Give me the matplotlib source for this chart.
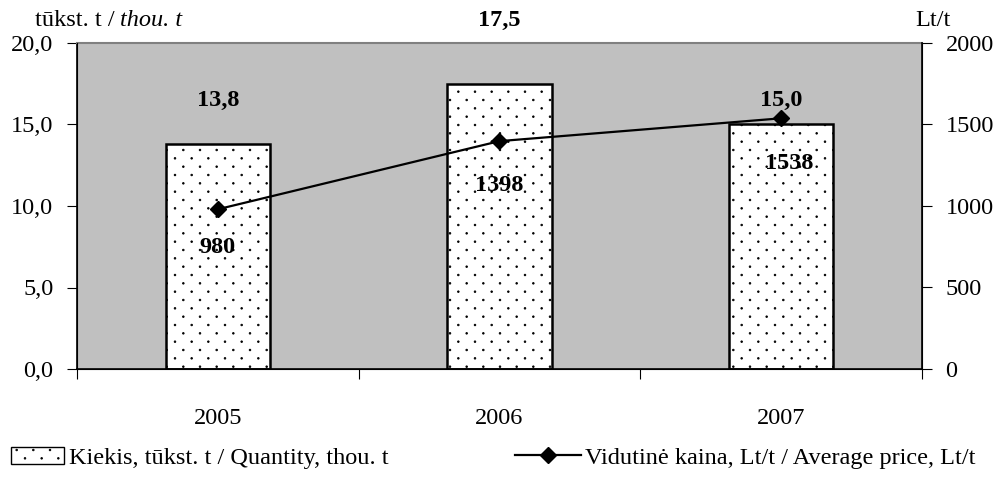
import numpy as np
import matplotlib
matplotlib.use('Agg')
import matplotlib.pyplot as plt
import matplotlib.hatch as mhatch
from matplotlib.path import Path
from matplotlib.lines import Line2D
from matplotlib.patches import Patch

years = ['2005', '2006', '2007']
quantity = [13.8, 17.5, 15.0]
price = [980, 1398, 1538]
quantity_labels = ['13,8', '17,5', '15,0']
price_labels = ['980', '1398', '1538']


class SparseDots(mhatch.HatchPatternBase):
    """Staggered small dots, wider spacing across than down (Excel style)."""

    def __init__(self, hatch, density):
        n = hatch.count('.')
        circle = Path.unit_circle()
        self.shape_vertices = circle.vertices
        self.shape_codes = circle.codes
        if n == 0:
            self.num_vertices = 0
            return
        ncol, nrow = 6 * n, 12 * n
        centers = []
        for i in range(nrow + 1):
            yy = i / nrow
            if i % 2 == 0:
                xs = np.linspace(0, 1, ncol + 1)
            else:
                xs = np.linspace(0.5 / ncol, 1 - 0.5 / ncol, ncol)
            centers += [(xx, yy) for xx in xs]
        self.centers = np.array(centers)
        self.num_vertices = len(self.centers) * len(self.shape_vertices)

    def set_vertices_and_codes(self, vertices, codes):
        nv = len(self.shape_vertices)
        for k, (cx, cy) in enumerate(self.centers):
            vertices[k * nv:(k + 1) * nv] = self.shape_vertices * 0.008 + (cx, cy)
            codes[k * nv:(k + 1) * nv] = self.shape_codes


mhatch._hatch_types = [h for h in mhatch._hatch_types
                       if h is not mhatch.SmallFilledCircles] + [SparseDots]

plt.rcParams['font.family'] = ['Liberation Serif', 'DejaVu Serif']
plt.rcParams['font.size'] = 17.5
plt.rcParams['hatch.linewidth'] = 0.6

fig = plt.figure(figsize=(10.02, 4.87), dpi=100)
ax = fig.add_axes([77 / 1002, 1 - 369 / 487, 845 / 1002, 326 / 487])
ax.set_facecolor('#c0c0c0')

x = np.arange(len(years))
ax.bar(x, quantity, width=0.37, color='white', edgecolor='black',
       linewidth=1.8, hatch='.', zorder=2)
ax.set_xlim(-0.5, 2.5)
ax.set_ylim(0, 20)
ax.set_yticks([0, 5, 10, 15, 20])
ax.set_yticklabels(['0,0', '5,0', '10,0', '15,0', '20,0'])
ax.set_xticks([-0.5, 0.5, 1.5, 2.5], minor=False)
ax.set_xticklabels([])
ax.set_xticks(x, minor=True)
ax.set_xticklabels(years, minor=True)
ax.tick_params(axis='x', which='minor', length=0, pad=28)
ax.tick_params(axis='x', which='major', length=7, direction='out')
ax.tick_params(axis='y', length=7, direction='out', pad=10)

for s in ['left', 'bottom']:
    ax.spines[s].set_linewidth(1.2)
ax.spines['top'].set_color('#808080')
ax.spines['top'].set_linewidth(1.5)

# bar value labels (placed to avoid the line, as in the source)
q_label_y = [16.5, 21.4, 16.5]
for xi, yl, t in zip(x, q_label_y, quantity_labels):
    ax.text(xi, yl, t, ha='center', va='center', fontweight='bold',
            clip_on=False, zorder=5)

ax2 = ax.twinx()
ax2.set_ylim(0, 2000)
ax2.set_yticks([0, 500, 1000, 1500, 2000])
ax2.tick_params(axis='y', length=7, direction='out', pad=10)
ax2.spines['right'].set_linewidth(1.2)
ax2.spines['top'].set_visible(False)
ax2.plot(x, price, color='black', linewidth=1.6, marker='D', markersize=8,
         zorder=4)

p_dx = [0, 0, 0.03]
p_dy = [-235, -274, -276]
for xi, p, dx, dy, t in zip(x, price, p_dx, p_dy, price_labels):
    ax2.text(xi + dx, p + dy, t, ha='center', va='center', fontweight='bold',
             zorder=5)

# axis unit titles
t1 = fig.text(35 / 1002, 1 - 20 / 487, 'tūkst. t /', ha='left', va='center')
ax.annotate('thou. t', xy=(1, 0.5), xycoords=t1, xytext=(4, 0),
            textcoords='offset points', ha='left', va='center',
            fontstyle='italic', annotation_clip=False)
fig.text(933 / 1002, 1 - 20 / 487, 'Lt/t', ha='center', va='center')

# two legend entries placed separately (different handle lengths)
leg_y = 1 - 458 / 487
fig.legend([Patch(facecolor='white', edgecolor='black', hatch='.',
                  linewidth=1.0)],
           ['Kiekis, tūkst. t / Quantity, thou. t'],
           loc='center left', bbox_to_anchor=(11 / 1002, leg_y),
           frameon=False, handlelength=2.2, handletextpad=0.2,
           borderaxespad=0, borderpad=0)
fig.legend([Line2D([0], [0], color='black', linewidth=1.6, marker='D',
                   markersize=8)],
           ['Vidutinė kaina, Lt/t / Average price, Lt/t'],
           loc='center left', bbox_to_anchor=(515 / 1002, leg_y),
           frameon=False, handlelength=2.7, handletextpad=0.2,
           borderaxespad=0, borderpad=0)

fig.savefig('out.png', dpi=100)
